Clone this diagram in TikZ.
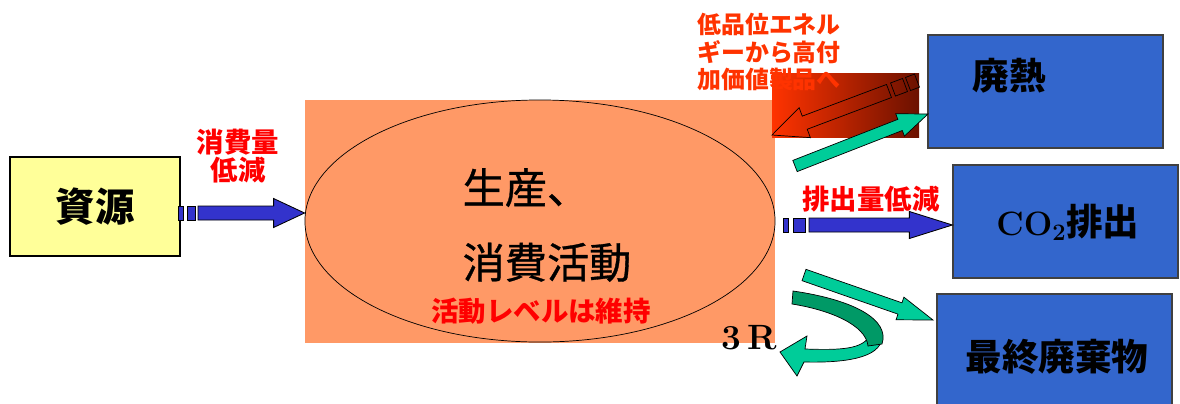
\documentclass[tikz,border=0pt]{standalone}
\usepackage{fontspec}
\newfontfamily\jp{Noto Sans CJK JP}
\usetikzlibrary{shapes.geometric,calc}

\definecolor{resyellow}{HTML}{FFFF99}
\definecolor{actorange}{HTML}{FF9966}
\definecolor{boxblue}{HTML}{3366CC}
\definecolor{arrblue}{HTML}{3333CC}
\definecolor{arrgreen}{HTML}{00CC99}
\definecolor{darkgreen}{HTML}{009966}
\definecolor{hotred}{HTML}{FF3300}
\definecolor{darkred}{HTML}{6B1100}

% block arrow: [style]{start}{tip}{half shaft}{half head}{head length}, sizes in px
\newcommand{\blockarrow}[6][]{%
  \coordinate (hb) at ($(#3)!#6*0.025cm!(#2)$);
  \filldraw[#1] ($(#2)!#4*0.025cm!90:(#3)$) -- ($(hb)!#4*0.025cm!90:(#3)$)
    -- ($(hb)!#5*0.025cm!90:(#3)$) -- (#3) -- ($(hb)!#5*0.025cm!-90:(#3)$)
    -- ($(hb)!#4*0.025cm!-90:(#3)$) -- ($(#2)!#4*0.025cm!-90:(#3)$) -- cycle;}
% stripe of a striped arrow: [style]{from}{to}{half width}
\newcommand{\stripe}[4][]{%
  \filldraw[#1] ($(#2)!#4*0.025cm!90:(#3)$) -- ($(#3)!#4*0.025cm!-90:(#2)$)
    -- ($(#3)!#4*0.025cm!90:(#2)$) -- ($(#2)!#4*0.025cm!-90:(#3)$) -- cycle;}

\begin{document}
\begin{tikzpicture}[x=0.025cm,y=-0.025cm]

\tikzset{resnode/.style={rectangle,draw,line width=1pt,fill=resyellow,minimum width=4.25cm,minimum height=2.475cm,inner sep=0pt,font=\jp\bfseries\fontsize{28}{30}\selectfont},}
\tikzset{actbox/.style={rectangle,fill=actorange,minimum width=11.75cm,minimum height=6.075cm,inner sep=0pt},}
\tikzset{actnode/.style={ellipse,draw,line width=0.5pt,minimum width=11.75cm,minimum height=6.05cm,inner sep=0pt},}
\tikzset{outnode/.style={rectangle,draw=black!75,line width=0.8pt,fill=boxblue,inner sep=0pt},}
\tikzset{outlabel/.style={inner sep=0pt,font=\jp\bfseries\fontsize{26}{28}\selectfont},}
\tikzset{redlabel/.style={inner sep=0pt,text=red,align=center,font=\jp\bfseries\fontsize{19.5}{20}\selectfont},}
\tikzset{bluearr/.style={fill=arrblue,draw=black,line width=0.6pt},}
\tikzset{greenarr/.style={fill=arrgreen,draw=black,line width=0.5pt},}

\useasboundingbox (0,0) rectangle (1180,403);

%RESOURCE
\draw (95,206.5) node [resnode] (res) {資源};
\draw (238,156) node [redlabel] (lred) {消費量\\低減};

%ACTIVITY
\draw (540,221.5) node [actbox] (actbg) {};
\draw (540,221) node [actnode] (act) {};
\draw (547,225) node [inner sep=0pt,align=left,font=\jp\fontsize{30}{53}\selectfont\addfontfeature{FakeBold=0.8}] (acttext) {生産、\\消費活動};
\draw (541,311) node [redlabel] (keep) {活動レベルは維持};

%OUTPUTS
\draw (1045.5,91.5) node [outnode,minimum width=5.875cm,minimum height=2.825cm] (heat) {};
\draw (1009,76) node [outlabel] (heatl) {廃熱};
\draw (1065.5,221.5) node [outnode,minimum width=5.625cm,minimum height=2.825cm] (co2) {};
\draw (1068,222) node [outlabel] (co2l) {{\rmfamily\bfseries\fontsize{24}{26}\selectfont CO\textsubscript{2}}排出};
\draw (1054.5,354) node [outnode,minimum width=5.875cm,minimum height=3cm] (waste) {};
\draw (1057,357) node [outlabel] (wastel) {最終廃棄物};

%INPUT ARROW
\coordinate (in1) at (178,213);
\coordinate (in2) at (act.west |- in1);
\filldraw[bluearr] ($(in1)+(0,-7)$) rectangle ++(5,14);
\filldraw[bluearr] ($(in1)+(9,-7)$) rectangle ++(8,14);
\coordinate (in3) at ($(in1)+(20,0)$);
\blockarrow[bluearr]{in3}{in2}{7}{14.5}{31}

%CO2 ARROW
\coordinate (out1) at (783,225);
\coordinate (out2) at (co2.west |- out1);
\filldraw[bluearr] ($(out1)+(0,-7)$) rectangle ++(5,14);
\filldraw[bluearr] ($(out1)+(10,-7)$) rectangle ++(12,14);
\coordinate (out3) at ($(out1)+(26,0)$);
\blockarrow[bluearr]{out3}{out2}{7}{13.5}{43}
\draw (871,199) node [redlabel] (co2red) {排出量低減};

%HEAT TO PRODUCTS
\shade[left color=hotred,right color=darkred] (772,73) rectangle (919,137);
\draw (697,52) node [anchor=west,inner sep=0pt,align=left,text=hotred,font=\jp\bfseries\fontsize{17}{19.5}\selectfont] (heatred) {低品位エネル\\ギーから高付\\加価値製品へ};
\coordinate (r1) at (889,91);
\coordinate (r2) at (772,135);
\blockarrow[draw=black,line width=0.5pt,fill=none]{r1}{r2}{7}{16}{35}
\coordinate (r3) at (893,89.5);
\coordinate (r4) at (905,85);
\coordinate (r5) at (908,84);
\coordinate (r6) at (917,80.6);
\stripe[draw=black,line width=0.5pt,fill=none]{r3}{r4}{7}
\stripe[draw=black,line width=0.5pt,fill=none]{r5}{r6}{7}

%GREEN ARROWS
\coordinate (g1a) at (795,166);
\coordinate (g1b) at (928,114);
\blockarrow[greenarr]{g1a}{g1b}{6}{12}{30}
\coordinate (g2a) at (804,275);
\coordinate (g2b) at (933,320);
\blockarrow[greenarr]{g2a}{g2b}{6}{12}{35}

%3R
\filldraw[greenarr] (882,338) .. controls (880,358) and (845,363) .. (804,362) -- (797,376) -- (780,352) -- (807,336) -- (805,349) .. controls (835,350) and (860,350) .. (868,338) -- cycle;
\filldraw[greenarr,fill=darkgreen] (793,291) .. controls (855,300) and (890,320) .. (882,344) -- (868,346) .. controls (866,325) and (830,310) .. (792,304) -- cycle;
\draw (749,338) node [inner sep=0pt,font=\bfseries\fontsize{25}{26}\selectfont] (threeR) {3\,R};

\end{tikzpicture}
\end{document}
